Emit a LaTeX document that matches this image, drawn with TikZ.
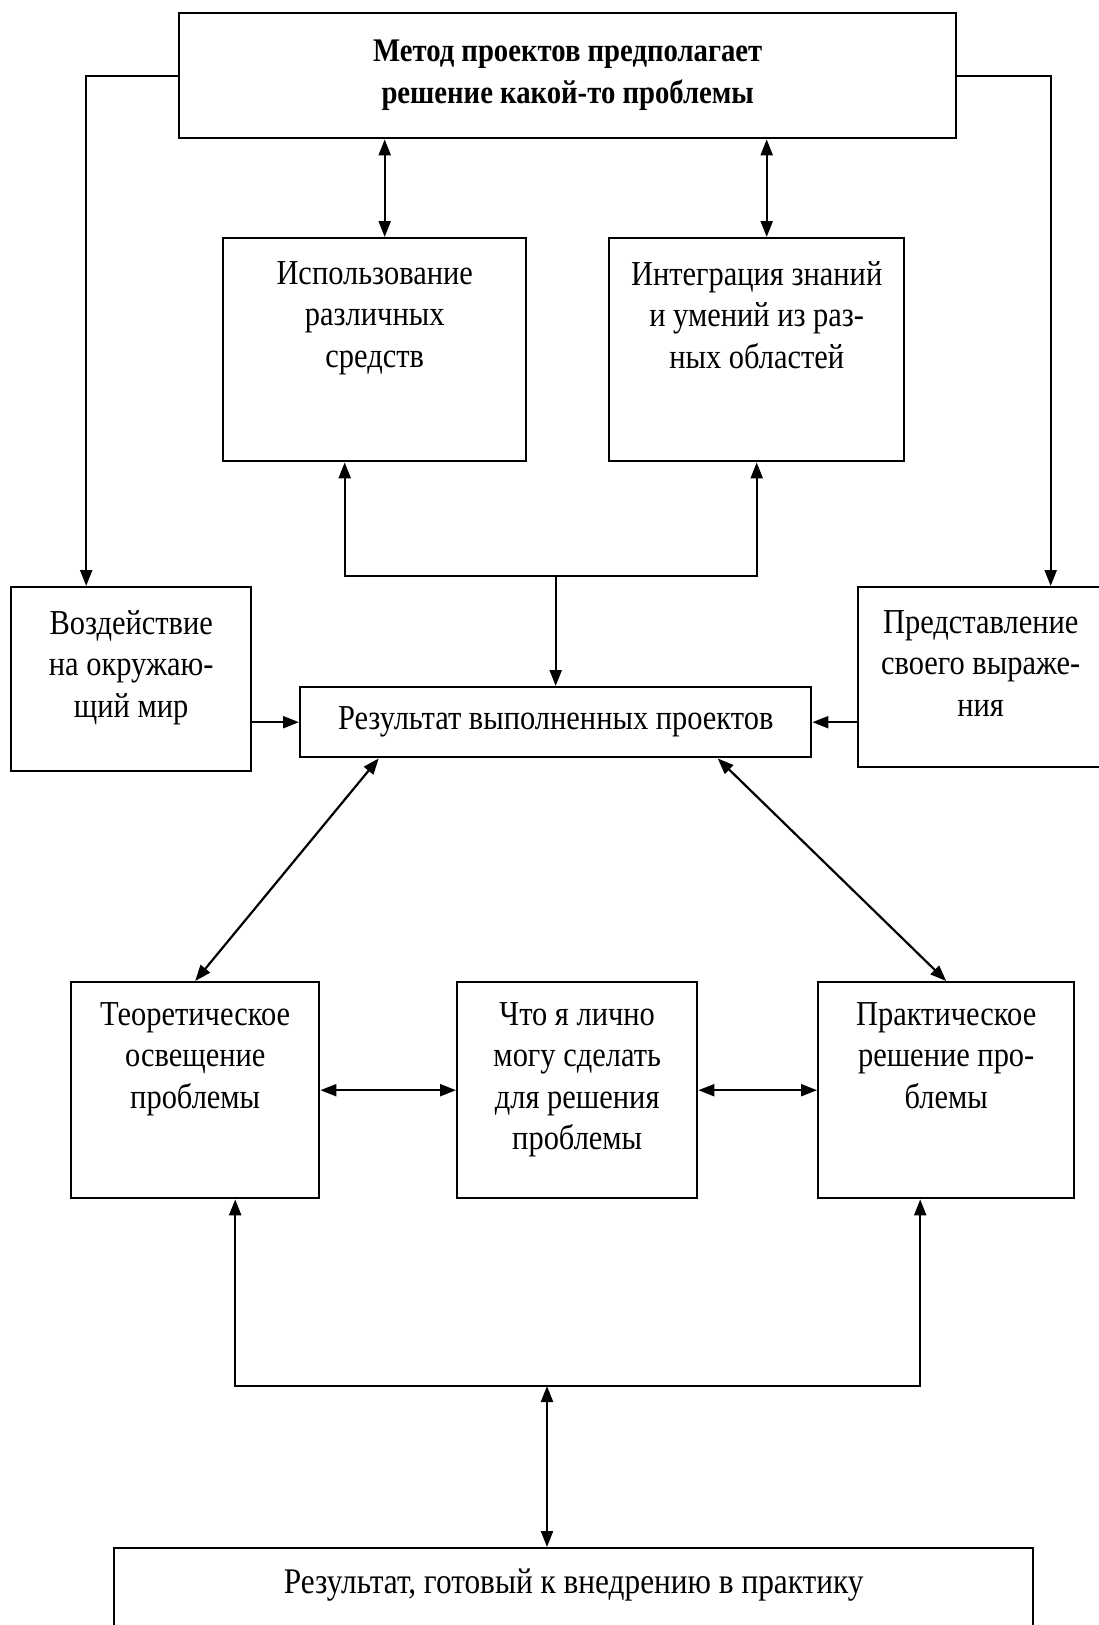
\documentclass[tikz,border=0pt]{standalone}
\usepackage{fontspec}
\setmainfont{Liberation Serif}[FakeStretch=0.87]
\usetikzlibrary{arrows.meta, positioning}

\begin{document}
\begin{tikzpicture}[
    x=1pt, y=-1pt,
    font=\fontsize{35}{41.5}\selectfont,
    box/.style={draw, line width=2.4pt, anchor=north west, inner sep=0pt},
    txt/.style={align=center, inner sep=0pt},
    arrow/.style={-{Triangle[length=16pt, width=12pt]}, line width=2.2pt},
    dbl/.style={{Triangle[length=16pt, width=12pt]}-{Triangle[length=16pt, width=12pt]}, line width=2.2pt}
]
\useasboundingbox (0,0) rectangle (1098,1625);

% Boxes
\node[box, minimum width=777pt, minimum height=125pt, align=center,
      font=\fontsize{33}{42}\selectfont\bfseries] (top) at (178,12)
      {Метод проектов предполагает\\решение какой-то проблемы};

\node[box, minimum width=303pt, minimum height=223pt] (use) at (222,237) {};
\node[txt, below=24pt of use.north] (use-t) {Использование\\различных\\средств};

\node[box, minimum width=295pt, minimum height=223pt] (integ) at (608,237) {};
\node[txt, below=24pt of integ.north] (integ-t) {Интеграция знаний\\и умений из раз-\\ных областей};

\node[box, minimum width=240pt, minimum height=184pt] (vozd) at (10,586) {};
\node[txt, below=24pt of vozd.north] (vozd-t) {Воздействие\\на окружаю-\\щий мир};

\node[box, minimum width=245pt, minimum height=180pt] (pred) at (857,586) {};
\node[txt, below=24pt of pred.north] (pred-t) {Представление\\своего выраже-\\ния};

\node[box, minimum width=511pt, minimum height=70pt] (res) at (299,686) {Результат выполненных проектов};

\node[box, minimum width=248pt, minimum height=216pt] (teor) at (70,981) {};
\node[txt, below=21pt of teor.north] (teor-t) {Теоретическое\\освещение\\проблемы};

\node[box, minimum width=240pt, minimum height=216pt] (what) at (456,981) {};
\node[txt, below=21pt of what.north] (what-t) {Что я лично\\могу сделать\\для решения\\проблемы};

\node[box, minimum width=256pt, minimum height=216pt] (prac) at (817,981) {};
\node[txt, below=21pt of prac.north] (prac-t) {Практическое\\решение про-\\блемы};

\node[box, minimum width=919pt, minimum height=150pt] (fin) at (113,1547) {};
\node[txt, below=22pt of fin.north, font=\fontsize{36}{41.5}\selectfont] (fin-t) {Результат, готовый к внедрению в практику};

% Junctions
\coordinate (jtop) at ([yshift=110pt]res.north);
\coordinate (jbot) at (547,1386);

% Arrows
\draw[arrow] (top.west) -| ([xshift=-45pt]vozd.north);
\draw[arrow] (top.east) -| ([xshift=70pt]pred.north);
\draw[dbl] ([xshift=10pt]use.north) -- ([xshift=10pt]use.north |- top.south);
\draw[dbl] ([xshift=10pt]integ.north) -- ([xshift=10pt]integ.north |- top.south);
\draw[arrow] (jtop) -| ([xshift=-30pt]use.south);
\draw[arrow] (jtop) -| (integ.south);
\draw[arrow] (jtop) -- (res.north);
\draw[arrow] (vozd.east |- res.west) -- (res.west);
\draw[arrow] (pred.west |- res.east) -- (res.east);
\draw[dbl] ([xshift=-177pt]res.south) -- (teor.north);
\draw[dbl] ([xshift=162pt]res.south) -- (prac.north);
\draw[dbl] (teor.east) -- (what.west);
\draw[dbl] (what.east) -- (prac.west);
\draw[arrow] (jbot) -| ([xshift=40pt]teor.south);
\draw[arrow] (jbot) -| ([xshift=-26pt]prac.south);
\draw[dbl] (jbot) -- (jbot |- fin.north);

\end{tikzpicture}
\end{document}
